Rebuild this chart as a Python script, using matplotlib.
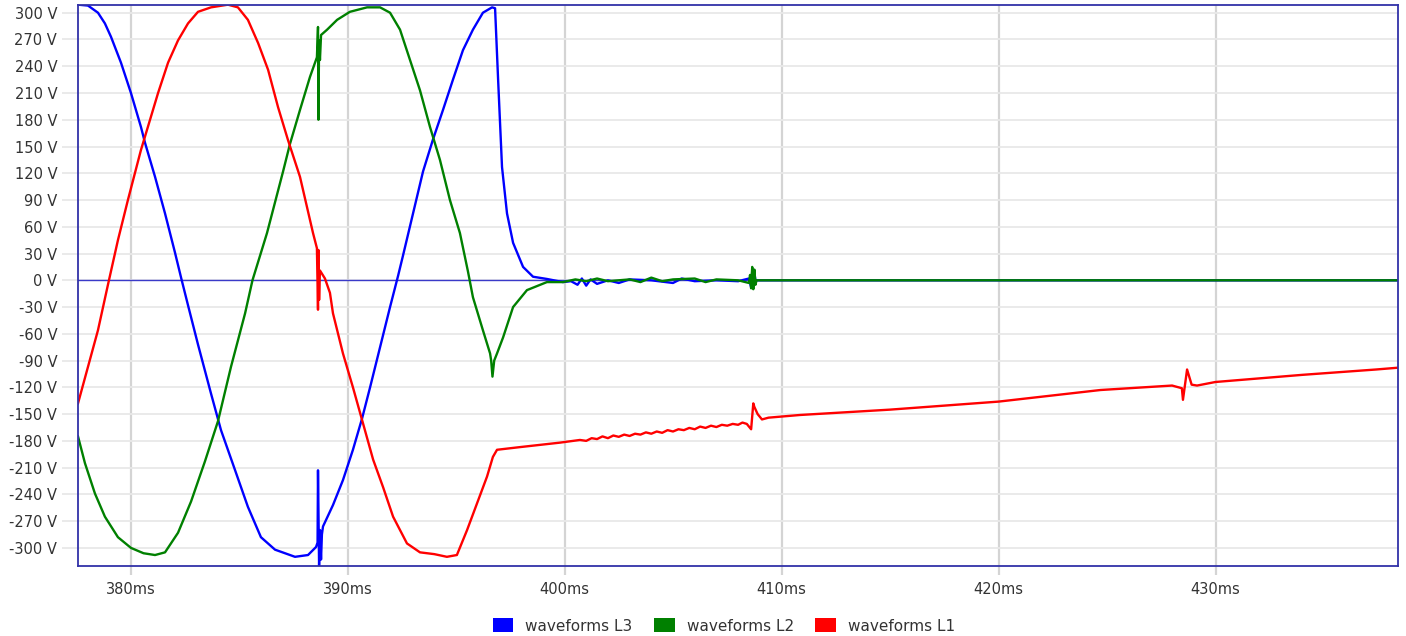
import matplotlib
matplotlib.use("Agg")
import matplotlib.pyplot as plt
from matplotlib.patches import Patch

# time (ms) / voltage (V)
t_l3 = [377.58, 378.04, 378.50, 378.82, 379.10, 379.56, 380.02, 380.48, 380.67, 381.13,
        381.59, 382.05, 382.33, 382.65, 383.11, 383.71, 384.17, 384.82, 385.41, 386.01,
        386.66, 387.58, 388.18, 388.55, 388.62, 388.64, 388.69, 388.73, 388.78, 388.82,
        388.87, 389.33, 389.79, 390.25, 390.67, 391.04, 391.50, 391.96, 392.33, 392.56,
        393.02, 393.48, 393.94, 394.40, 394.86, 395.32, 395.78, 396.24, 396.66, 396.80,
        396.94, 397.12, 397.35, 397.63, 398.09, 398.55, 399.19, 399.93, 400.3, 400.6,
        400.8, 401.0, 401.2, 401.5, 402.0, 402.5, 403.0, 404.0, 405.0, 405.4,
        406.0, 407.0, 408.0, 408.5, 408.6, 408.65, 408.7, 408.75, 408.8, 438.4]
v_l3 = [309, 308, 300, 288, 273, 244, 210, 172, 154, 116,
        75, 31, 3, -28, -72, -127, -168, -213, -254, -288,
        -302, -310, -308, -299, -294, -213, -320, -280, -313, -285,
        -276, -252, -224, -190, -155, -120, -75, -30, 5, 28,
        75, 122, 158, 191, 225, 258, 281, 300, 306, 305,
        225, 127, 75, 42, 15, 4, 1.5, -2, -1, -5,
        2, -6, 1, -4, 0, -3, 1, 0, -3, 2,
        -1, 0, -1, 2, -8, 10, -6, 8, 0, 0]

t_l2 = [377.58, 377.90, 378.36, 378.82, 379.42, 380.02, 380.60, 381.13, 381.59, 382.19,
        382.79, 383.43, 384.03, 384.63, 385.28, 385.62, 386.29, 387.03, 387.35, 387.81,
        388.27, 388.59, 388.64, 388.66, 388.69, 388.73, 388.78, 389.06, 389.52, 390.11,
        390.90, 391.50, 391.96, 392.42, 392.88, 393.34, 393.80, 394.26, 394.72, 395.18,
        395.55, 395.78, 396.24, 396.57, 396.62, 396.68, 396.76, 396.89, 397.17, 397.63,
        398.27, 399.19, 399.93, 400.5, 401.0, 401.5, 402.0, 403.0, 403.5, 404.0,
        404.5, 405.0, 406.0, 406.5, 407.0, 408.0, 408.5, 408.55, 408.6, 408.65,
        408.7, 408.75, 408.8, 408.85, 438.4]
v_l2 = [-175, -205, -239, -265, -288, -300, -306, -308, -305, -283,
        -248, -203, -158, -97, -37, 0, 53, 122, 153, 191,
        228, 250, 284, 180, 269, 247, 275, 281, 292, 301,
        306, 306, 300, 281, 247, 213, 172, 135, 90, 53,
        10, -19, -56, -82, -90, -108, -90, -82, -64, -30,
        -11, -2, -2, 1, -1, 2, -1, 1, -2, 3,
        -1, 1, 2, -2, 1, 0, -3, 6, -9, 15,
        -10, 12, -5, 0, 0]

t_l1 = [377.58, 378.04, 378.50, 378.96, 379.42, 379.88, 380.48, 381.27, 381.73, 382.19,
        382.65, 383.11, 383.71, 384.49, 384.95, 385.41, 385.88, 386.34, 386.80, 387.26,
        387.81, 388.41, 388.59, 388.64, 388.66, 388.69, 388.73, 388.96, 389.19, 389.33,
        389.79, 390.25, 390.71, 391.18, 391.64, 392.10, 392.74, 393.34, 394.00, 394.58,
        395.04, 395.51, 395.97, 396.43, 396.70, 396.89, 397.95, 399.79, 400.71, 401.0,
        401.25, 401.5, 401.75, 402.0, 402.25, 402.5, 402.75, 403.0, 403.25, 403.5,
        403.75, 404.0, 404.25, 404.5, 404.75, 405.0, 405.25, 405.5, 405.75, 406.0,
        406.25, 406.5, 406.75, 407.0, 407.25, 407.5, 407.75, 408.0, 408.2, 408.4,
        408.6, 408.7, 408.75, 408.9, 409.1, 409.4, 410.85, 415.0, 420.0, 424.7,
        428.0, 428.45, 428.5, 428.69, 428.9, 429.15, 430.0, 434.0, 437.4, 438.4]
v_l1 = [-138, -97, -56, -5, 45, 90, 146, 210, 244, 269,
        288, 301, 306, 309, 306, 292, 266, 236, 194, 157,
        116, 53, 36, -33, 34, -22, 11, 2, -14, -37,
        -82, -120, -160, -201, -232, -265, -295, -305, -307, -310,
        -308, -280, -250, -220, -198, -190, -187, -182, -179, -180,
        -177, -178, -175, -177, -174, -175.5, -173, -174.5, -172, -173,
        -170.5, -172, -169.5, -171, -168, -169.5, -167, -168, -165.5, -167,
        -164, -165.5, -163, -164.5, -162, -163, -161, -162, -159.5, -161,
        -167, -138, -142, -150, -156, -154, -151, -145, -136, -123,
        -118, -121, -134, -100, -117, -118, -114, -106, -100, -98]

series = [("waveforms L3", t_l3, v_l3, "#0000ff"),
          ("waveforms L2", t_l2, v_l2, "#008000"),
          ("waveforms L1", t_l1, v_l1, "#ff0000")]

yticks = list(range(-300, 301, 30))
xticks = [380, 390, 400, 410, 420, 430]

fig = plt.figure(figsize=(14.06, 6.36), dpi=100)
ax = fig.add_axes([78 / 1406, 1 - 566 / 636, 1320 / 1406, 561.5 / 636])

ax.axhline(0, color="#3a3ac8", lw=1.0, zorder=1.5)
for name, t, v, c in series:
    ax.plot(t, v, color=c, lw=1.7, zorder=2)

ax.set_xlim(377.58, 438.41)
ax.set_ylim(-320.3, 309.2)
ax.set_xticks(xticks)
ax.set_xticklabels([f"{x}ms" for x in xticks])
ax.set_yticks(yticks)
ax.set_yticklabels([f"{y} V" for y in yticks])

ax.grid(axis="x", color="#d4d4d4", lw=1.6, zorder=0)
ax.grid(axis="y", color="#e8e8e8", lw=1.3, zorder=0)
ax.set_axisbelow(True)
ax.tick_params(axis="x", length=6.5, width=1.6, color="#d4d4d4", pad=5,
               labelsize=10.5, labelcolor="#333333")
ax.tick_params(axis="y", length=11.5, width=1.3, color="#e8e8e8", pad=3.5,
               labelsize=10.5, labelcolor="#333333")
for s in ax.spines.values():
    s.set_color("#3232a8")
    s.set_linewidth(1.3)

handles = [Patch(facecolor=c, edgecolor="none", label=name) for name, t, v, c in series]
fig.legend(handles=handles, loc="center", bbox_to_anchor=(724 / 1406, 1 - 626 / 636),
           ncol=3, frameon=False, fontsize=11, handlelength=1.35, handleheight=1.0,
           handletextpad=0.8, columnspacing=1.4, labelcolor="#333333")

fig.savefig("out.png", dpi=100)
